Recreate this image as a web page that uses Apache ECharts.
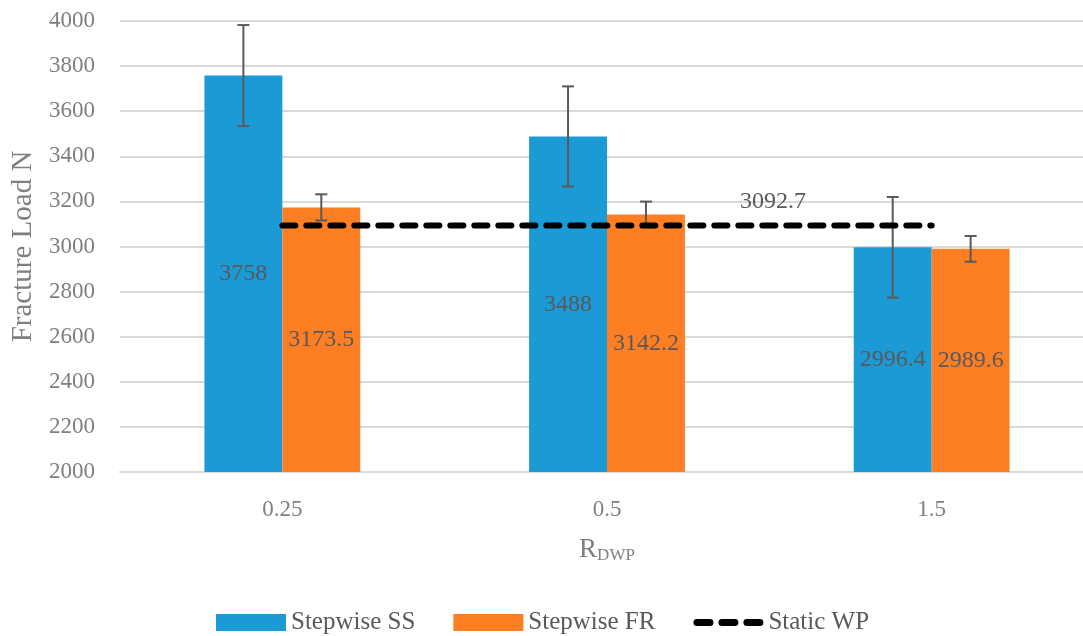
<!DOCTYPE html>
<html>
<head>
<meta charset="utf-8">
<script src="https://cdn.jsdelivr.net/npm/echarts@6/dist/echarts.min.js"></script>
<style>html,body{margin:0;padding:0;background:#fff;overflow:hidden}#c{width:1094px;height:636px}</style>
</head>
<body>
<div id="c"></div>
<script>
var categories = ['0.25', '0.5', '1.5'];
var stepwiseSS = [3758, 3488, 2996.4];
var stepwiseFR = [3173.5, 3142.2, 2989.6];
var errSS = [224, 222, 223];
var errFR = [58, 57, 57];
var staticWP = 3092.7;
var yTicks = [2000, 2200, 2400, 2600, 2800, 3000, 3200, 3400, 3600, 3800, 4000];

var serif = '"Liberation Serif", "DejaVu Serif", serif';
var gapFrac = 0.52;

var dashIcon = 'path://M0,0h0.01v0.01h-0.01z M70,17h0.01v0.01h-0.01z ' +
  'M3.5,5h13a3.5,3.5 0 0 1 0,7h-13a3.5,3.5 0 0 1 0,-7z ' +
  'M28.5,5h13a3.5,3.5 0 0 1 0,7h-13a3.5,3.5 0 0 1 0,-7z ' +
  'M53.5,5h13a3.5,3.5 0 0 1 0,7h-13a3.5,3.5 0 0 1 0,-7z';

function errorSeries(name, values, errs, sideSign) {
  return {
    type: 'custom',
    name: name + ' err',
    z: 5,
    silent: true,
    data: values.map(function (v, i) { return [i, v - errs[i], v + errs[i]]; }),
    renderItem: function (params, api) {
      var band = api.size([1, 0])[0];
      var off = sideSign * band * (1 - gapFrac) / 4;
      var lo = api.coord([api.value(0), api.value(1)]);
      var hi = api.coord([api.value(0), api.value(2)]);
      var x = lo[0] + off;
      var cap = 6;
      var st = { stroke: '#5a5a5a', lineWidth: 2 };
      return {
        type: 'group',
        children: [
          { type: 'line', shape: { x1: x, y1: lo[1], x2: x, y2: hi[1] }, style: st },
          { type: 'line', shape: { x1: x - cap, y1: lo[1], x2: x + cap, y2: lo[1] }, style: st },
          { type: 'line', shape: { x1: x - cap, y1: hi[1], x2: x + cap, y2: hi[1] }, style: st }
        ]
      };
    }
  };
}

var chart = echarts.init(document.getElementById('c'));
chart.setOption({
  animation: false,
  backgroundColor: '#ffffff',
  grid: { left: 120, right: 0, top: 21, bottom: 164, containLabel: false },
  legend: {
    bottom: 1,
    left: 216,
    padding: 0,
    itemWidth: 70,
    itemHeight: 17,
    itemGap: 38,
    textStyle: { fontFamily: serif, fontSize: 25, color: '#595959' },
    data: [
      { name: 'Stepwise SS', icon: 'rect' },
      { name: 'Stepwise FR', icon: 'rect' },
      { name: 'Static WP', icon: dashIcon }
    ]
  },
  xAxis: {
    type: 'category',
    data: categories,
    name: '{a|R}{b|DWP}',
    nameLocation: 'middle',
    nameGap: 63,
    nameTextStyle: {
      rich: {
        a: { fontFamily: serif, fontSize: 27, color: '#7f7f7f' },
        b: { fontFamily: serif, fontSize: 17, color: '#7f7f7f', padding: [12, 0, 0, 0] }
      }
    },
    axisLine: { show: true, lineStyle: { color: '#d9d9d9', width: 2 } },
    axisTick: { show: false },
    axisLabel: { fontFamily: serif, fontSize: 23, color: '#7f7f7f', margin: 26 }
  },
  yAxis: {
    type: 'value',
    min: yTicks[0],
    max: yTicks[yTicks.length - 1],
    interval: yTicks[1] - yTicks[0],
    name: 'Fracture Load N',
    nameLocation: 'middle',
    nameGap: 80,
    nameTextStyle: { fontFamily: serif, fontSize: 29, color: '#7f7f7f' },
    axisLine: { show: false },
    axisTick: { show: false },
    axisLabel: { fontFamily: serif, fontSize: 23, color: '#7f7f7f', margin: 25,
      formatter: function (v) { return String(v); } },
    splitLine: { lineStyle: { color: '#d9d9d9', width: 2 } }
  },
  series: [
    {
      name: 'Stepwise SS',
      type: 'bar',
      data: stepwiseSS,
      barGap: '0%',
      barCategoryGap: (gapFrac * 100) + '%',
      itemStyle: { color: '#1b9ad6' },
      label: { show: true, position: 'inside', fontFamily: serif, fontSize: 24, color: '#595959' }
    },
    {
      name: 'Stepwise FR',
      type: 'bar',
      data: stepwiseFR,
      barGap: '0%',
      barCategoryGap: (gapFrac * 100) + '%',
      itemStyle: { color: '#fd7e23' },
      label: { show: true, position: 'inside', fontFamily: serif, fontSize: 24, color: '#595959' }
    },
    errorSeries('Stepwise SS', stepwiseSS, errSS, -1),
    errorSeries('Stepwise FR', stepwiseFR, errFR, 1),
    {
      name: 'Static WP',
      type: 'line',
      z: 6,
      symbol: 'circle',
      symbolSize: 0,
      showSymbol: true,
      data: categories.map(function (c, i) {
        var d = { value: staticWP };
        if (i === 1) {
          d.label = { show: true, position: 'top', offset: [166, -7], formatter: String(staticWP),
            fontFamily: serif, fontSize: 24, color: '#595959' };
        }
        return d;
      }),
      lineStyle: { color: '#000000', width: 6, type: [13, 11], cap: 'round' },
      itemStyle: { color: '#000000' }
    }
  ]
});
</script>
</body>
</html>
